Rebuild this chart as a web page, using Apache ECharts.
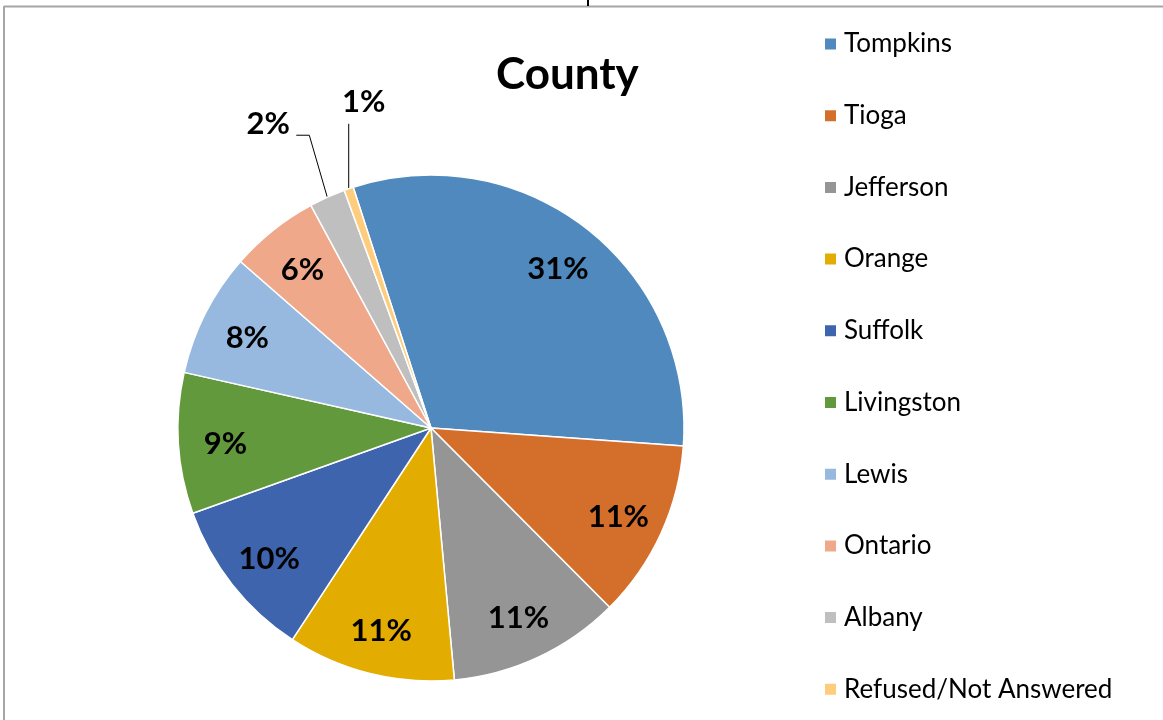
<!DOCTYPE html>
<html>
<head>
<meta charset="utf-8">
<title>County</title>
<script src="https://cdn.jsdelivr.net/npm/echarts@6/dist/echarts.min.js"></script>
<style>
  html, body { margin: 0; padding: 0; background: #fff; }
  #chart { width: 1163px; height: 720px; }
</style>
</head>
<body>
<div id="chart"></div>
<script>
// county names and their share (%)
const counties = ['Tompkins', 'Tioga', 'Jefferson', 'Orange', 'Suffolk',
  'Livingston', 'Lewis', 'Ontario', 'Albany', 'Refused/Not Answered'];
const shares = [31.1, 11.4, 11.0, 10.7, 10.3, 9.0, 7.9, 5.7, 2.3, 0.6];
const colors = ['#4F89BD', '#D46F2B', '#959595', '#E2AC00', '#3D64AD',
  '#63993D', '#97B9E0', '#F0A88A', '#BFBFBF', '#FDCD7D'];
// slices whose labels sit outside with a leader line
const outsideLabels = ['Albany', 'Refused/Not Answered'];

const cx = 431, cy = 428, R = 253;
const startAngle = 107.9;
const font = 'Lato';

// point on the outer edge at the middle of slice i
function edgePoint(i) {
  const total = shares.reduce((a, b) => a + b, 0);
  const before = shares.slice(0, i).reduce((a, b) => a + b, 0);
  const mid = (before + shares[i] / 2) / total * 360;
  const t = (startAngle - mid) * Math.PI / 180;
  return [cx + R * Math.cos(t), cy - R * Math.sin(t)];
}

const chart = echarts.init(document.getElementById('chart'));

const pieData = counties.map((name, i) => ({
  name: name,
  value: shares[i],
  itemStyle: { color: colors[i] }
}));

// transparent ring used only to place the labels further out
const labelData = counties.map((name, i) => {
  const item = { name: name, value: shares[i] };
  if (outsideLabels.indexOf(name) >= 0) {
    item.label = { position: 'outside' };
    item.labelLine = { show: true };
  }
  return item;
});

chart.setOption({
  animation: false,
  title: {
    text: 'County',
    left: 496,
    top: 53,
    padding: 0,
    textStyle: { fontFamily: font, fontWeight: 'bold', fontSize: 44, color: '#000' }
  },
  legend: {
    data: counties,
    orient: 'vertical',
    left: 823,
    top: 29,
    padding: 0,
    icon: 'rect',
    itemWidth: 13,
    itemHeight: 13,
    itemGap: 41.7,
    textStyle: { fontFamily: font, fontSize: 26, lineHeight: 30, color: '#000', padding: [0, 0, 0, 2] }
  },
  graphic: [
    { type: 'line', shape: { x1: 4, y1: 6.5, x2: 1163, y2: 6.5 }, style: { stroke: '#A6A6A6', lineWidth: 2 } },
    { type: 'line', shape: { x1: 4, y1: 6, x2: 4, y2: 720 }, style: { stroke: '#A6A6A6', lineWidth: 2 } },
    { type: 'line', shape: { x1: 588, y1: 0, x2: 588, y2: 6 }, style: { stroke: '#000', lineWidth: 2 } }
  ],
  series: [
    {
      name: 'County',
      type: 'pie',
      center: [cx, cy],
      radius: R,
      startAngle: startAngle,
      clockwise: true,
      avoidLabelOverlap: false,
      label: { show: false },
      labelLine: { show: false },
      itemStyle: { borderColor: '#fff', borderWidth: 1.5 },
      emphasis: { disabled: true },
      data: pieData
    },
    {
      name: 'labels',
      type: 'pie',
      silent: true,
      center: [cx, cy],
      radius: [153, R],
      startAngle: startAngle,
      clockwise: true,
      avoidLabelOverlap: false,
      itemStyle: { color: 'rgba(0,0,0,0)', borderWidth: 0 },
      label: {
        show: true,
        position: 'inside',
        fontFamily: font,
        fontWeight: 'bold',
        fontSize: 31,
        color: '#000',
        offset: [0, 3],
        formatter: p => Math.round(p.percent) + '%'
      },
      labelLine: { show: false, length: 20, length2: 10, lineStyle: { color: '#000', width: 1 } },
      labelLayout: function (p) {
        const name = counties[p.dataIndex];
        const e = edgePoint(p.dataIndex);
        if (name === 'Albany') {
          return {
            x: e[0] - 59, y: e[1] - 73, align: 'center', verticalAlign: 'middle',
            labelLinePoints: [e, [e[0] - 18, e[1] - 62], [e[0] - 31, e[1] - 62]]
          };
        }
        if (name === 'Refused/Not Answered') {
          return {
            x: e[0] + 15, y: e[1] - 87, align: 'center', verticalAlign: 'middle',
            labelLinePoints: [e, [e[0], e[1] - 65], [e[0], e[1] - 65]]
          };
        }
        return {};
      },
      emphasis: { disabled: true },
      data: labelData
    }
  ]
});
</script>
</body>
</html>
